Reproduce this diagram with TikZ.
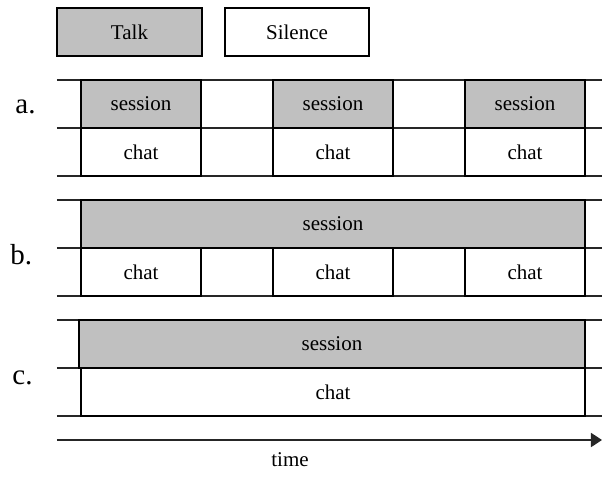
\documentclass[tikz,border=0pt]{standalone}
\usepackage{fontspec}
\setmainfont{Liberation Serif}
\usetikzlibrary{arrows.meta,positioning}
\definecolor{TalkGrey}{HTML}{C0C0C0}
\definecolor{TrackGrey}{HTML}{262626}

\begin{document}
\begin{tikzpicture}[
            x=0.5pt, y=-0.5pt,
            font=\fontsize{10.5}{12}\selectfont,
            >={Triangle[length=5.5pt,width=7pt]},
            node distance=0pt,
            cell/.style={
                    draw=black,
                    line width=1pt,
                    inner sep=0pt,
                    outer sep=0pt,
                    minimum height=24pt
                },
            talk/.style={cell, fill=TalkGrey},
            silence/.style={cell, fill=white},
            short/.style={minimum width=60pt},
            track/.style={draw=TrackGrey, line width=0.9pt},
            rowlabel/.style={
                    font=\fontsize{14.5}{17}\selectfont,
                    anchor=base west,
                    inner sep=0pt
                },
        ]
        \useasboundingbox (0,0) rectangle (602,478);

        % Tracks
        \foreach \y in {80,128,176,200,248,296,320,368,416}
        \draw[track] (57,\y) -- (602,\y);

        % Legend
        \node[talk, minimum width=72.5pt] (legtalk) at (129.5,32) {Talk};
        \node[silence, minimum width=72pt] (legsilence) at (297,32) {Silence};

        % a.
        \node[rowlabel] (la) at (15,113) {a.};
        \node[talk, short] (sa1) at (141,104) {session};
        \node[talk, short] (sa2) at (333,104) {session};
        \node[talk, short] (sa3) at (525,104) {session};
        \node[silence, short, below=of sa1] (ca1) {chat};
        \node[silence, short, below=of sa2] (ca2) {chat};
        \node[silence, short, below=of sa3] (ca3) {chat};

        % b.
        \node[rowlabel] (lb) at (10,264) {b.};
        \node[talk, minimum width=252pt] (sb) at (333,224) {session};
        \node[silence, short] (cb1) at (141,272) {chat};
        \node[silence, short] (cb2) at (333,272) {chat};
        \node[silence, short] (cb3) at (525,272) {chat};

        % c.
        \node[rowlabel] (lc) at (12,384) {c.};
        \node[talk, minimum width=253pt] (sc) at (332,344) {session};
        \node[silence, minimum width=252pt] (cc) at (333,392) {chat};

        % Time axis
        \coordinate (t0) at (57,440);
        \coordinate (t1) at (602,440);
        \draw[track, ->] (t0) -- (t1);
        \node (time) at (290,460) {time};

    \end{tikzpicture}
\end{document}
